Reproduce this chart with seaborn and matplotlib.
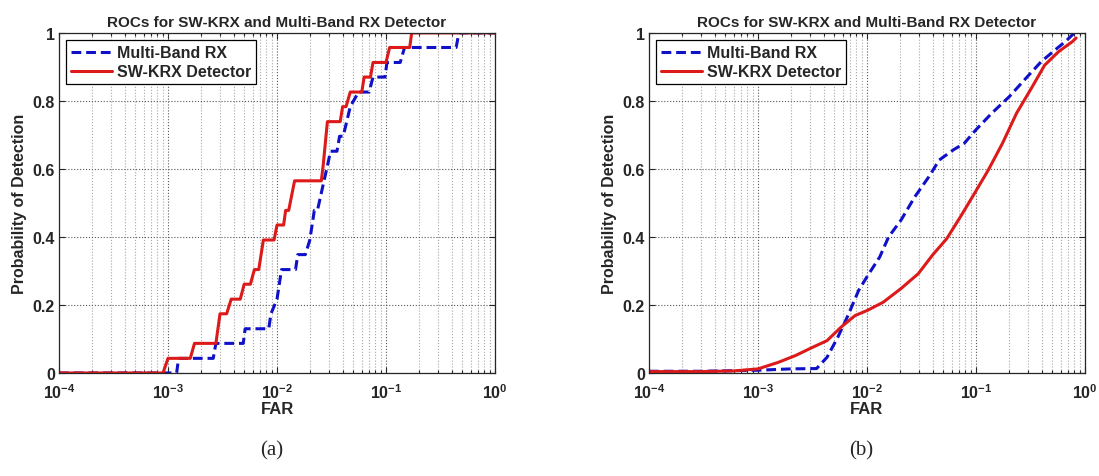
import numpy as np
import matplotlib
matplotlib.use('Agg')
import matplotlib.pyplot as plt
import seaborn as sns
from matplotlib.ticker import LogLocator, NullFormatter, FixedLocator

# ROC data
# (a) step ROCs
far_rx_a = [1e-4, 1.2e-3, 1.25e-3, 2.6e-3, 2.75e-3, 4.9e-3, 5.1e-3, 8.4e-3, 8.8e-3, 1.0e-2,
            1.1e-2, 1.48e-2, 1.55e-2, 1.82e-2, 2.0e-2, 2.2e-2, 2.35e-2, 2.7e-2, 2.9e-2, 3.1e-2,
            3.55e-2, 3.75e-2, 4.05e-2, 4.7e-2, 5.6e-2, 7.0e-2, 7.6e-2, 9.8e-2, 0.102, 0.135,
            0.148, 0.44, 0.467, 1.0]
pd_rx_a = [0, 0, 0.043, 0.043, 0.087, 0.087, 0.130, 0.130, 0.174, 0.217,
           0.304, 0.304, 0.348, 0.348, 0.391, 0.478, 0.478, 0.565, 0.609, 0.652,
           0.652, 0.696, 0.696, 0.783, 0.826, 0.826, 0.870, 0.870, 0.913, 0.913,
           0.957, 0.957, 1.0, 1.0]
far_krx_a = [1e-4, 9.0e-4, 1.0e-3, 1.6e-3, 1.75e-3, 2.75e-3, 3.0e-3, 3.45e-3, 3.8e-3, 4.6e-3,
             5.0e-3, 5.7e-3, 6.2e-3, 6.8e-3, 7.5e-3, 9.4e-3, 1.0e-2, 1.15e-2, 1.2e-2, 1.28e-2,
             1.45e-2, 2.55e-2, 2.65e-2, 2.9e-2, 3.8e-2, 4.0e-2, 4.3e-2, 4.7e-2, 6.0e-2, 6.3e-2,
             7.2e-2, 7.6e-2, 0.100, 0.108, 0.165, 0.172, 1.0]
pd_krx_a = [0, 0, 0.043, 0.043, 0.087, 0.087, 0.174, 0.174, 0.217, 0.217,
            0.261, 0.261, 0.304, 0.304, 0.391, 0.391, 0.435, 0.435, 0.478, 0.478,
            0.565, 0.565, 0.609, 0.739, 0.739, 0.783, 0.783, 0.826, 0.826, 0.870,
            0.870, 0.913, 0.913, 0.957, 0.957, 1.0, 1.0]

# (b) smooth ROCs
far_rx_b = [1e-4, 3e-4, 1e-3, 2e-3, 3.45e-3, 4.3e-3, 5.4e-3, 6.7e-3, 8.4e-3, 1.01e-2,
            1.31e-2, 1.58e-2, 2.05e-2, 2.75e-2, 3.7e-2, 4.6e-2, 6.2e-2, 7.8e-2, 0.1, 0.14,
            0.203, 0.294, 0.396, 0.533, 0.665, 0.80]
pd_rx_b = [0.005, 0.005, 0.008, 0.012, 0.013, 0.046, 0.105, 0.169, 0.243, 0.285,
           0.341, 0.40, 0.449, 0.518, 0.577, 0.626, 0.656, 0.675, 0.715, 0.764,
           0.813, 0.87, 0.915, 0.95, 0.975, 1.0]
far_krx_b = [1e-4, 3e-4, 6e-4, 1e-3, 1.53e-3, 2.2e-3, 3.2e-3, 4.3e-3, 5.8e-3, 7.8e-3,
             1.01e-2, 1.41e-2, 2.05e-2, 2.96e-2, 3.98e-2, 5.4e-2, 7.2e-2, 9.7e-2, 0.130, 0.175,
             0.236, 0.317, 0.427, 0.574, 0.772, 0.83]
pd_krx_b = [0.004, 0.004, 0.006, 0.012, 0.031, 0.051, 0.076, 0.095, 0.135, 0.169,
            0.184, 0.208, 0.248, 0.292, 0.346, 0.395, 0.459, 0.528, 0.597, 0.675,
            0.764, 0.833, 0.905, 0.945, 0.975, 0.985]

panels = [
    (far_rx_a, pd_rx_a, far_krx_a, pd_krx_a, '(a)'),
    (far_rx_b, pd_rx_b, far_krx_b, pd_krx_b, '(b)'),
]
xticks = [1e-4, 1e-3, 1e-2, 1e-1, 1e0]
xticklabels = [r'$10^{-4}$', r'$10^{-3}$', r'$10^{-2}$', r'$10^{-1}$', r'$10^{0}$']
yticks = [0, 0.2, 0.4, 0.6, 0.8, 1.0]
yticklabels = ['0', '0.2', '0.4', '0.6', '0.8', '1']

sns.set_style('ticks', {'xtick.direction': 'in', 'ytick.direction': 'in'})
plt.rcParams['font.family'] = ['Liberation Sans', 'DejaVu Sans']
plt.rcParams['font.weight'] = 'bold'
plt.rcParams['mathtext.fontset'] = 'custom'
plt.rcParams['mathtext.default'] = 'bf'
plt.rcParams['mathtext.bf'] = 'Liberation Sans:bold'
plt.rcParams['mathtext.rm'] = 'Liberation Sans:bold'

fig = plt.figure(figsize=(10.99, 4.77), dpi=100)
lefts = [0.0537, 0.5905]

for left, (fr, pr, fk, pk, cap) in zip(lefts, panels):
    ax = fig.add_axes([left, 0.216, 0.3967, 0.713])
    sns.lineplot(x=fr, y=pr, ax=ax, sort=False, estimator=None, color='#1010c8',
                 linestyle='--', linewidth=2.2, label='Multi-Band RX')
    ax.lines[-1].set_dashes((3.2, 1.6))
    sns.lineplot(x=fk, y=pk, ax=ax, sort=False, estimator=None, color='#dc1a1a',
                 linewidth=2.2, label='SW-KRX Detector')
    ax.set_xscale('log')
    ax.set_xlim(1e-4, 1)
    ax.set_ylim(0, 1)
    ax.xaxis.set_major_locator(FixedLocator(xticks))
    ax.set_xticklabels(xticklabels)
    ax.xaxis.set_minor_locator(LogLocator(base=10, subs=np.arange(2, 10), numticks=20))
    ax.xaxis.set_minor_formatter(NullFormatter())
    ax.set_yticks(yticks)
    ax.set_yticklabels(yticklabels)
    ax.tick_params(which='both', direction='in', top=True, right=True, labelsize=11.5,
                   width=0.8)
    ax.tick_params(axis='x', pad=7)
    ax.tick_params(axis='y', pad=3)
    ax.tick_params(which='major', length=4)
    ax.tick_params(which='minor', length=2)
    ax.grid(which='major', linestyle=':', color='0.35', linewidth=0.8)
    ax.grid(which='minor', axis='x', linestyle=':', color='0.65', linewidth=0.8)
    for sp in ax.spines.values():
        sp.set_color('0.15')
        sp.set_linewidth(0.9)
    ax.set_xlabel('FAR', fontsize=12, fontweight='bold', labelpad=0)
    ax.set_ylabel('Probability of Detection', fontsize=11.5, fontweight='bold', labelpad=4)
    ax.set_title('ROCs for SW-KRX and Multi-Band RX Detector', fontsize=11,
                 fontweight='bold', pad=5)
    leg = ax.legend(loc='upper left', bbox_to_anchor=(0.016, 0.978), borderaxespad=0,
                    fontsize=11.5, handlelength=2.6, handletextpad=0.3,
                    fancybox=False, framealpha=1, edgecolor='black',
                    borderpad=0.3, labelspacing=0.25)
    leg.get_frame().set_linewidth(0.9)
    fig.text(left + 0.3967 / 2 - 0.005, 0.055, cap, ha='center', va='center',
             fontsize=15, family='Liberation Serif', fontweight='normal')

fig.savefig('out.png', dpi=100)
